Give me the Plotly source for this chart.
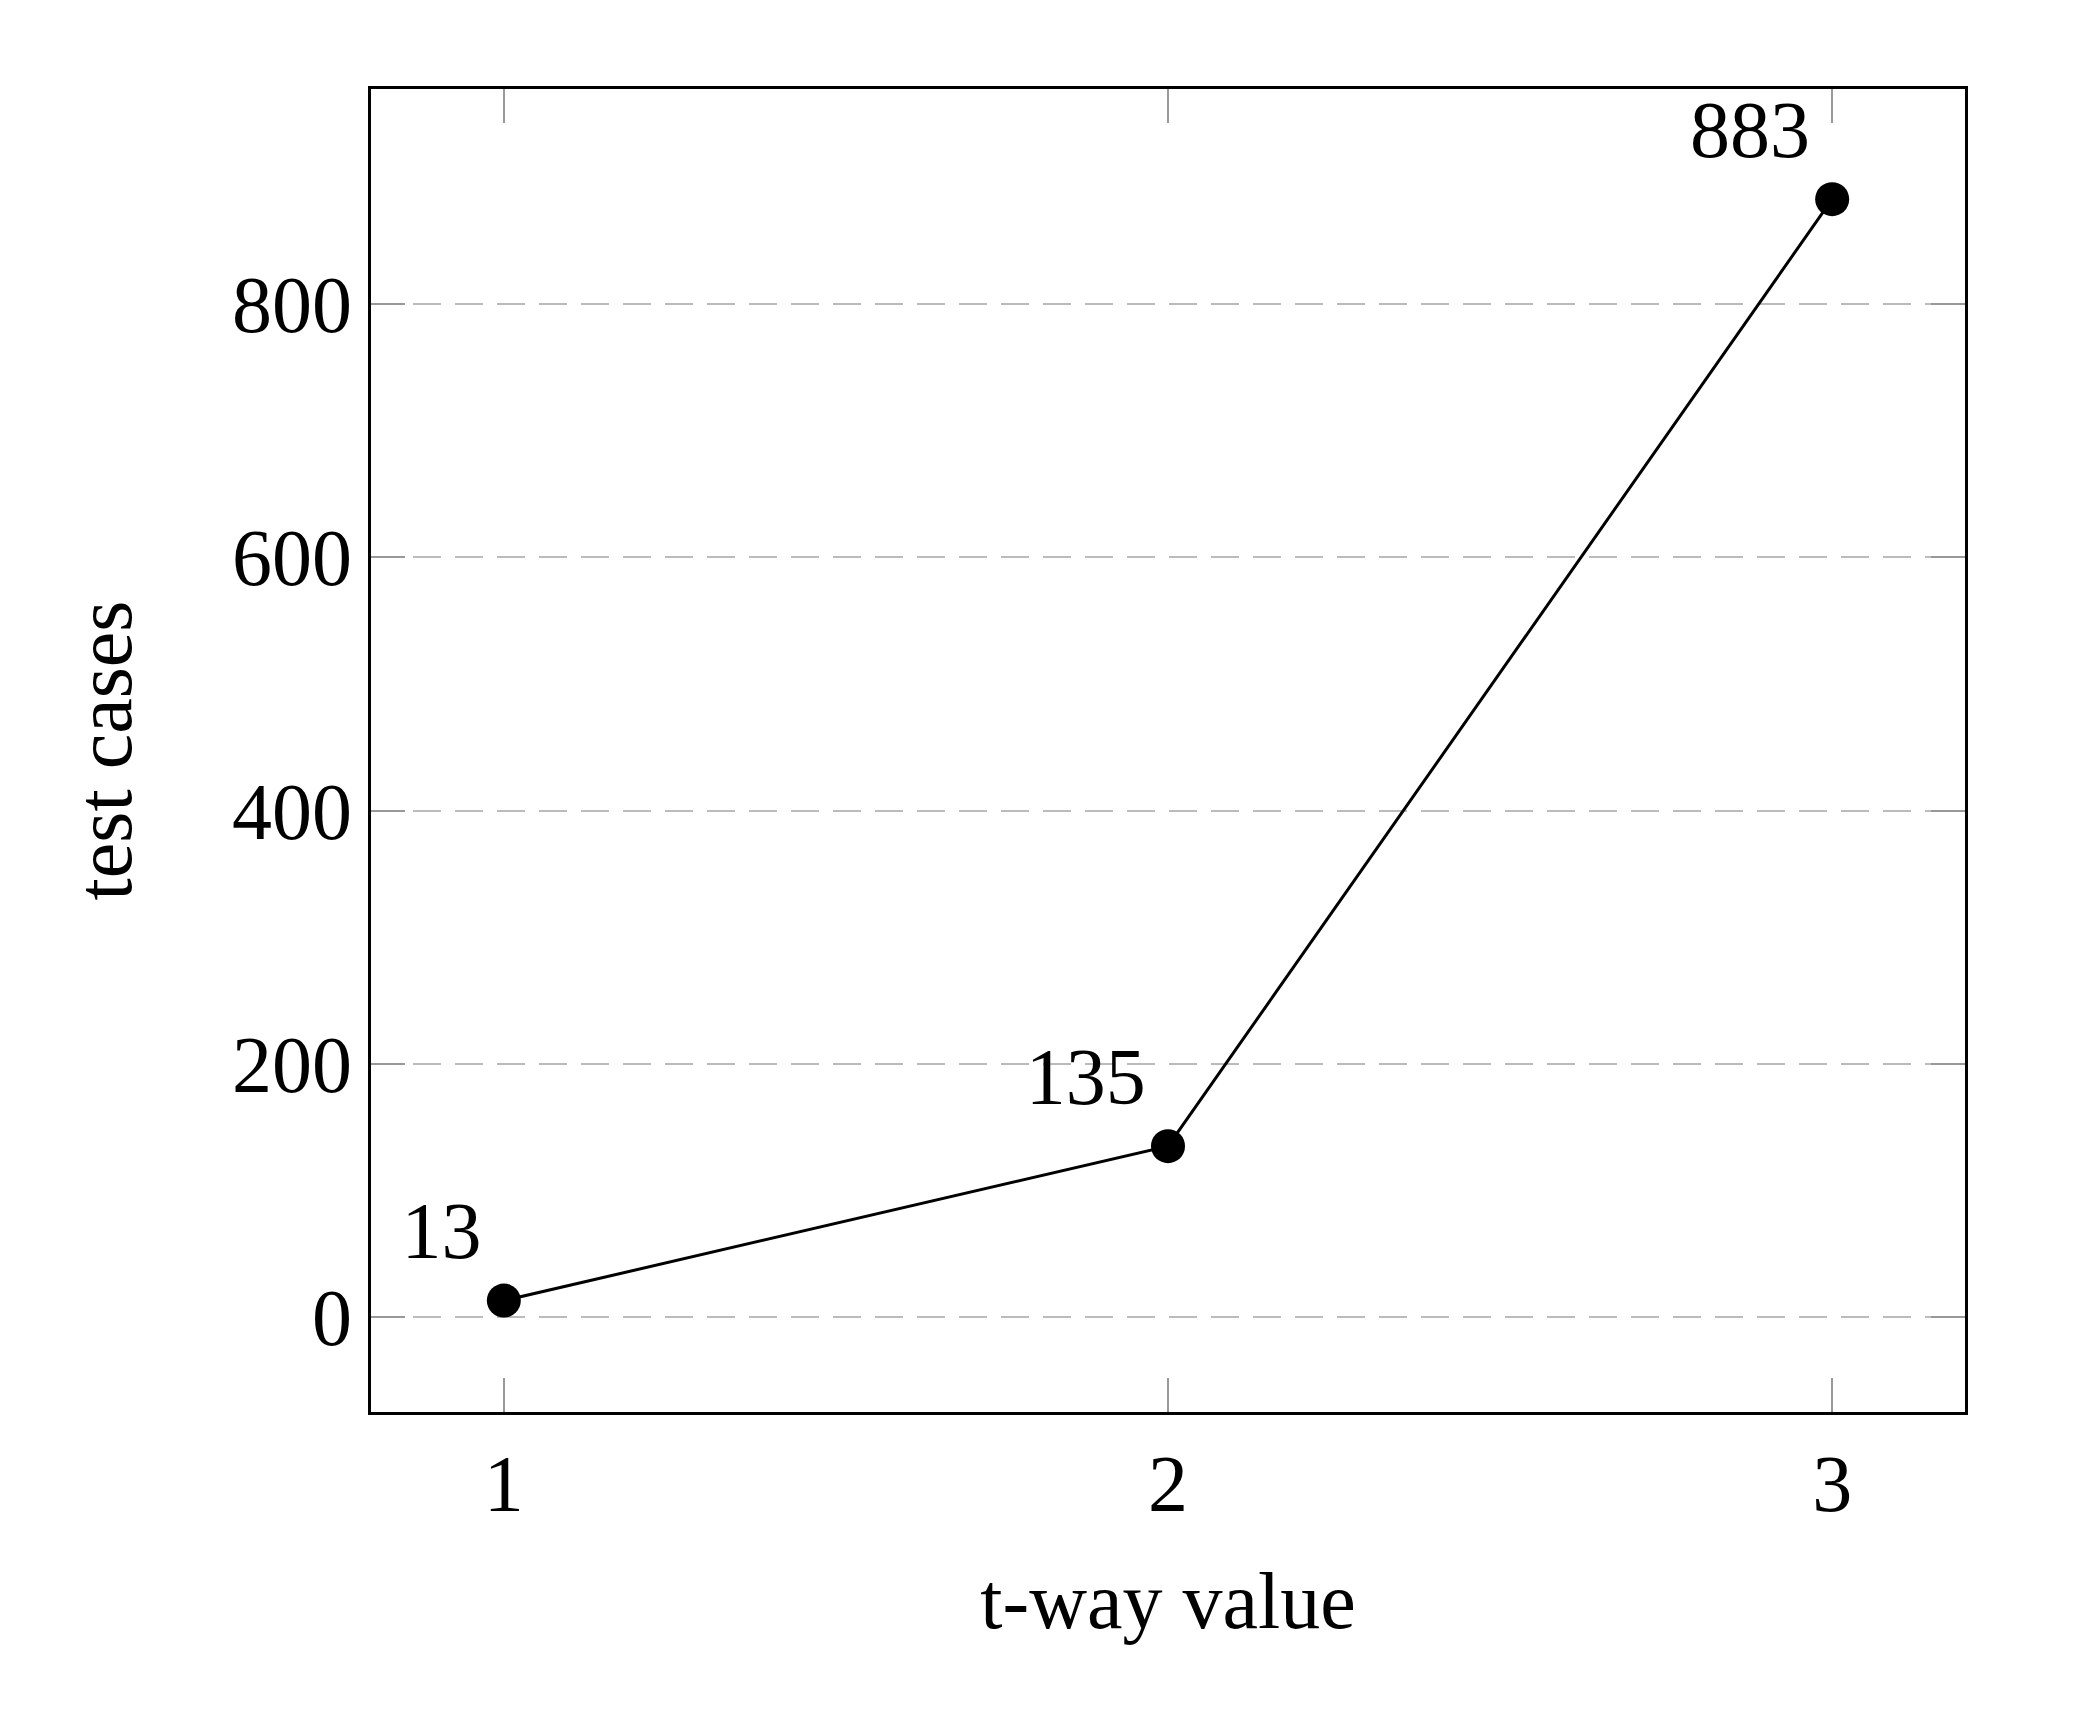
import plotly.graph_objects as go

t_way = [1, 2, 3]
test_cases = [13, 135, 883]
labels = ["13", "135", "883"]

font = "Liberation Serif"
fig = go.Figure(go.Scatter(
    x=t_way, y=test_cases, mode="lines+markers+text",
    text=labels, textposition="top left",
    textfont=dict(family=font, size=80, color="black"),
    line=dict(color="black", width=3),
    marker=dict(color="black", size=34),
))
fig.update_layout(
    width=2084, height=1724, plot_bgcolor="white", paper_bgcolor="white",
    margin=dict(l=363, r=127, t=81, b=320), showlegend=False,
    font=dict(family=font, size=80, color="black"),
)
fig.update_xaxes(range=[0.8, 3.2], tickvals=[1, 2, 3], showgrid=False,
                 showline=True, linecolor="black", linewidth=3, mirror="ticks",
                 ticks="inside", ticklen=34, tickcolor="#999", tickwidth=2,
                 title=dict(text="t-way value", font=dict(size=80), standoff=45),
                 zeroline=False)
fig.update_yaxes(range=[-75, 970], tickvals=[0, 200, 400, 600, 800],
                 showgrid=True, gridcolor="#bbb", gridwidth=2, griddash="28px,14px",
                 showline=True, linecolor="black", linewidth=3, mirror="ticks",
                 ticks="inside", ticklen=34, tickcolor="#999", tickwidth=2,
                 title=dict(text="test cases", font=dict(size=80), standoff=75),
                 zeroline=False)
fig.write_html("out.html")
